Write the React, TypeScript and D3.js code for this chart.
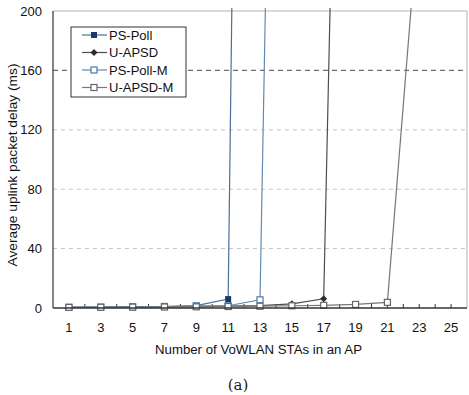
import * as d3 from "d3";

// stations per AP (x) and mean uplink delay in ms (y)
const PS_POLL_X = [1, 3, 5, 7, 9, 11, 13];
const PS_POLL_Y = [0.5, 0.6, 0.8, 1.0, 1.6, 6.0, 1700];

const U_APSD_X = [1, 3, 5, 7, 9, 11, 13, 15, 17, 19];
const U_APSD_Y = [0.4, 0.5, 0.6, 0.7, 0.9, 1.2, 1.6, 2.8, 6.2, 985];

const PS_POLL_M_X = [1, 3, 5, 7, 9, 11, 13, 15];
const PS_POLL_M_Y = [0.5, 0.6, 0.8, 1.0, 1.4, 1.5, 5.5, 1170];

const U_APSD_M_X = [1, 3, 5, 7, 9, 11, 13, 15, 17, 19, 21, 23];
const U_APSD_M_Y = [0.4, 0.5, 0.6, 0.7, 0.8, 1.0, 1.2, 1.5, 1.8, 2.4, 3.8, 270];

const X_TICKS = [1, 3, 5, 7, 9, 11, 13, 15, 17, 19, 21, 23, 25];
const Y_TICKS = [0, 40, 80, 120, 160, 200];

const FONT = "'Liberation Sans', Arial, sans-serif";

type Series = {
  name: string;
  xs: number[];
  ys: number[];
  line: string;
  marker: "filledSquare" | "diamond" | "openSquare";
  markerColor: string;
};

const SERIES: Series[] = [
  { name: "PS-Poll", xs: PS_POLL_X, ys: PS_POLL_Y, line: "#4a6f98", marker: "filledSquare", markerColor: "#173a66" },
  { name: "U-APSD", xs: U_APSD_X, ys: U_APSD_Y, line: "#4d4d4d", marker: "diamond", markerColor: "#2e2e2e" },
  { name: "PS-Poll-M", xs: PS_POLL_M_X, ys: PS_POLL_M_Y, line: "#6089b3", marker: "openSquare", markerColor: "#4a77a8" },
  { name: "U-APSD-M", xs: U_APSD_M_X, ys: U_APSD_M_Y, line: "#777777", marker: "openSquare", markerColor: "#666666" },
];

const W = 469;
const H = 395;
const M = { left: 53, right: 467, top: 11, bottom: 308 };

const x = d3.scaleLinear().domain([0, 26]).range([M.left, M.right]);
const y = d3.scaleLinear().domain([0, 200]).range([M.bottom, M.top]);

const Marker = ({ kind, color, cx, cy }: { kind: Series["marker"]; color: string; cx: number; cy: number }) => {
  if (kind === "filledSquare")
    return <rect x={cx - 3} y={cy - 3} width={6} height={6} fill={color} />;
  if (kind === "diamond")
    return (
      <path
        d={`M${cx},${cy - 3.5}L${cx + 3.5},${cy}L${cx},${cy + 3.5}L${cx - 3.5},${cy}Z`}
        fill={color}
      />
    );
  return (
    <rect x={cx - 3} y={cy - 3} width={6} height={6} fill="#fff" stroke={color} strokeWidth={1.2} />
  );
};

export default function App() {
  const line = d3
    .line<[number, number]>()
    .x((d) => x(d[0]))
    .y((d) => y(d[1]));

  const minorTicks = d3.range(1, 26);

  return (
    <svg
      width={W}
      height={H}
      style={{ position: "absolute", left: 0, top: 0, background: "#fff" }}
      fontFamily={FONT}
    >
      <defs>
        <clipPath id="plot">
          <rect x={M.left} y={M.top - 3} width={M.right - M.left} height={M.bottom - M.top + 3} />
        </clipPath>
      </defs>

      {/* horizontal grid */}
      {Y_TICKS.filter((t) => t > 0 && t < 200).map((t) => (
        <line
          key={t}
          x1={M.left}
          x2={M.right}
          y1={y(t)}
          y2={y(t)}
          stroke={t === 160 ? "#6e6e6e" : "#c4c4c4"}
          strokeWidth={t === 160 ? 1.3 : 1}
          strokeDasharray={t === 160 ? "5,4" : "4,4"}
        />
      ))}

      {/* frame: light top/right, dark left/bottom */}
      <line x1={M.left} x2={M.right} y1={M.top} y2={M.top} stroke="#b3b3b3" />
      <line x1={M.right} x2={M.right} y1={M.top} y2={M.bottom} stroke="#b3b3b3" />

      {/* minor ticks on the x axis */}
      {minorTicks.map((t) => (
        <line key={t} x1={x(t)} x2={x(t)} y1={M.bottom} y2={M.bottom - 4} stroke="#333" />
      ))}

      <g clipPath="url(#plot)">
        {SERIES.map((s) => (
          <path
            key={s.name}
            d={line(s.xs.map((v, i) => [v, s.ys[i]]) as [number, number][]) ?? ""}
            fill="none"
            stroke={s.line}
            strokeWidth={1.2}
          />
        ))}
      </g>
      {SERIES.map((s) => (
        <g key={s.name}>
          {s.xs.map((v, i) =>
            s.ys[i] <= 200 ? (
              <Marker key={i} kind={s.marker} color={s.markerColor} cx={x(v)} cy={y(s.ys[i])} />
            ) : null
          )}
        </g>
      ))}

      <line x1={M.left} x2={M.left} y1={M.top} y2={M.bottom} stroke="#333" strokeWidth={1.2} />
      <line x1={M.left} x2={M.right} y1={M.bottom} y2={M.bottom} stroke="#333" strokeWidth={1.5} />

      {/* tick labels */}
      {Y_TICKS.map((t) => (
        <text key={t} x={42} y={y(t) + 4.5} textAnchor="end" fontSize={13} fill="#111">
          {t}
        </text>
      ))}
      {X_TICKS.map((t) => (
        <text key={t} x={x(t)} y={332} textAnchor="middle" fontSize={13} fill="#111">
          {t}
        </text>
      ))}

      {/* axis titles */}
      <text
        x={258.5}
        y={354}
        textAnchor="middle"
        fontSize={12.5}
        fill="#111"
        textLength={207}
        lengthAdjust="spacingAndGlyphs"
      >
        Number of VoWLAN STAs in an AP
      </text>
      <text
        transform="translate(17,165) rotate(-90)"
        textAnchor="middle"
        fontSize={13.5}
        fill="#111"
        textLength={203}
        lengthAdjust="spacingAndGlyphs"
      >
        Average uplink packet delay (ms)
      </text>

      {/* legend */}
      <rect x={71} y={27} width={115} height={70} fill="#fff" stroke="#333" strokeWidth={1} />
      {SERIES.map((s, i) => {
        const ly = 35 + i * 17.5;
        return (
          <g key={s.name}>
            <line x1={82} x2={107} y1={ly} y2={ly} stroke={s.line} strokeWidth={1.2} />
            <Marker kind={s.marker} color={s.markerColor} cx={94} cy={ly} />
            <text x={109} y={ly + 4.5} fontSize={13} fill="#111">
              {s.name}
            </text>
          </g>
        );
      })}

      <text x={238} y={390} textAnchor="middle" fontSize={15} fontFamily="'DejaVu Serif', serif" fill="#222">
        (a)
      </text>
    </svg>
  );
}
